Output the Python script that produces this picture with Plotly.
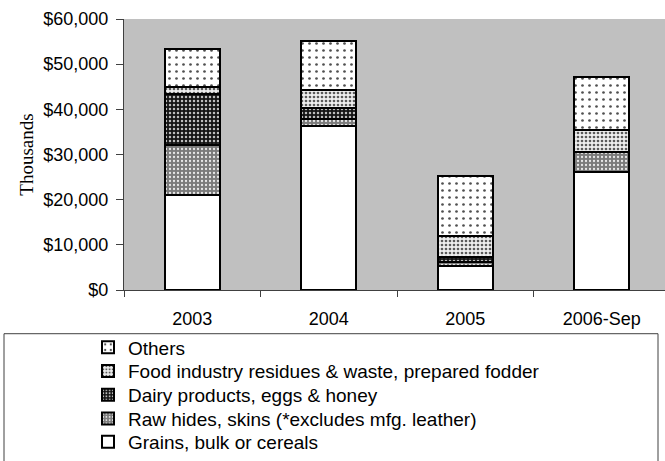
import plotly.graph_objects as go

categories = ["2003", "2004", "2005", "2006-Sep"]
grains = [21100, 36300, 5300, 26100]
raw_hides = [11100, 1500, 800, 4400]
dairy = [11100, 2600, 1200, 150]
food_residues = [1600, 3800, 4700, 4700]
others = [8400, 10900, 13300, 11700]

series_names = [
    "Grains, bulk or cereals",
    "Raw hides, skins (*excludes mfg. leather)",
    "Dairy products, eggs & honey",
    "Food industry residues & waste, prepared fodder",
    "Others",
]
series_values = [grains, raw_hides, dairy, food_residues, others]

patterns = [
    None,
    dict(shape=".", bgcolor="#7a7a7a", fgcolor="#e8e8e8", size=4, solidity=0.25, fillmode="replace"),
    dict(shape=".", bgcolor="#141414", fgcolor="#bdbdbd", size=4, solidity=0.3, fillmode="replace"),
    dict(shape=".", bgcolor="#eeeeee", fgcolor="#5a5a5a", size=4, solidity=0.35, fillmode="replace"),
    dict(shape=".", bgcolor="white", fgcolor="#505050", size=7, solidity=0.12, fillmode="replace"),
]

W, H = 665, 461
ml, mr, mt, mb = 124, 0, 19, 163
pw, ph = W - ml - mr, H - mt - mb

def px_x(x):
    return (x - ml) / pw

def px_y(y):
    return (H - mb - y) / ph

# legend rows (top row = last series), one legend box per row
legend_ids = ["legend5", "legend4", "legend3", "legend2", "legend"]
row_centers_px = [455, 430.5, 406, 381.5, 357]

fig = go.Figure()
for name, vals, pat, lid in zip(series_names, series_values, patterns, legend_ids):
    marker = dict(color="white", line=dict(color="black", width=2))
    if pat:
        marker["pattern"] = pat
    fig.add_trace(go.Bar(x=categories, y=vals, name=name, marker=marker, width=0.4, legend=lid))

legend_common = dict(
    x=px_x(88), xanchor="left", yanchor="middle",
    bgcolor="rgba(0,0,0,0)", borderwidth=0,
    font=dict(size=19, color="black"),
    itemclick=False, itemdoubleclick=False,
)
legend_layout = {}
for lid, yc in zip(legend_ids, row_centers_px):
    legend_layout[lid] = dict(legend_common, y=px_y(yc))

fig.update_layout(
    width=W, height=H,
    margin=dict(l=ml, r=mr, t=mt, b=mb, pad=0),
    barmode="stack",
    paper_bgcolor="white",
    plot_bgcolor="#C0C0C0",
    font=dict(family="Arial, Liberation Sans, sans-serif", size=18, color="black"),
    showlegend=True,
    shapes=[dict(
        type="rect", xref="paper", yref="paper",
        x0=px_x(4), x1=px_x(658), y0=px_y(343), y1=px_y(475),
        line=dict(color="#404040", width=1), fillcolor="rgba(0,0,0,0)",
    )],
    **legend_layout,
)

fig.update_xaxes(
    type="category",
    range=[-0.5, 3.463],
    showgrid=False,
    showline=True, linecolor="#404040", linewidth=1,
    ticks="outside", tickson="boundaries", ticklen=6, tickcolor="#404040",
    ticklabelstandoff=12,
    tickfont=dict(size=18, color="black"),
)
fig.update_yaxes(
    range=[0, 60000],
    dtick=10000,
    tickprefix="$", tickformat=",d",
    showgrid=False, zeroline=False,
    showline=True, linecolor="#404040", linewidth=1,
    ticks="outside", ticklen=7, tickcolor="#404040",
    ticklabelstandoff=4,
    tickfont=dict(size=18, color="black"),
    title=dict(text="Thousands", font=dict(family="Times New Roman, Liberation Serif, serif", size=19, color="black"), standoff=4),
)

fig.write_html(
    "out.html",
    config={"displayModeBar": False},
    post_script="document.body.style.margin='0';document.body.style.overflow='hidden';document.documentElement.style.overflow='hidden';",
)
